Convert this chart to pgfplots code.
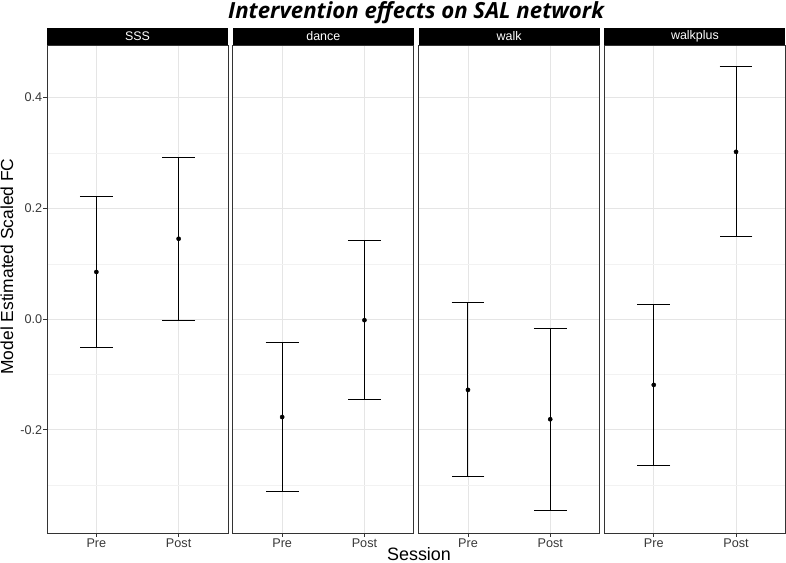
\documentclass[border=0pt]{standalone}
\usepackage{pgfplots}
\pgfplotsset{compat=1.18}
\usepackage{fontspec}
\setmainfont{Liberation Sans}
\newfontfamily\titlefont{Open Sans}
\definecolor{grid92}{gray}{0.90}
\definecolor{grid96}{gray}{0.95}
\definecolor{grey20}{gray}{0.2}
\definecolor{grey30}{gray}{0.22}
\newcommand\strip[1]{%
  \fill[black] (rel axis cs:0,1) rectangle ([yshift=17.3bp]rel axis cs:1,1);
  \node[text=white, font=\fontsize{12.5}{14}\selectfont] at ([yshift=8.65bp]rel axis cs:0.5,1) {#1};}
\pgfplotsset{
  panel/.style={
    scale only axis, width=181bp, height=488.3bp, anchor=south west,
    xmin=0.4, xmax=2.6, ymin=-0.387, ymax=0.495,
    xtick={1,2}, xticklabels={Pre,Post},
    ytick={-0.2,0,0.2,0.4}, yticklabels={-0.2,0.0,0.2,0.4},
    minor ytick={-0.3,-0.1,0.1,0.3},
    grid=both,
    major grid style={line width=0.6bp, grid92},
    minor grid style={line width=0.35bp, grid96},
    axis line style={line width=0.8bp, grey20},
    tick pos=left, tick align=outside,
    major tick length=3.6bp, minor tick length=0pt,
    tick style={line width=0.8bp, grey20},
    ticklabel style={font=\fontsize{12.7}{14}\selectfont, text=grey30},
    xticklabel style={inner sep=1.5bp},
    yticklabel style={inner sep=1bp},
    clip=false,
  },
  inner/.style={yticklabels={}, ytick style={draw=none}},
  ebar/.style={black, only marks, mark=*, mark size=2.1bp,
    error bars/.cd, y dir=both, y explicit,
    error bar style={line width=1bp, black},
    error mark options={rotate=90, line width=1bp, mark size=16.45bp, black}},
}
\begin{document}
\begin{tikzpicture}[x=1bp,y=1bp]
\begin{axis}[panel, at={(47bp,29.7bp)}]
  \addplot[ebar] coordinates {
    (1,0.085) += (0,0.136) -= (0,0.136)
    (2,0.145) += (0,0.147) -= (0,0.147)};
  \strip{SSS}
\end{axis}
\begin{axis}[panel, inner, at={(232.8bp,29.7bp)}]
  \addplot[ebar] coordinates {
    (1,-0.177) += (0,0.134) -= (0,0.134)
    (2,-0.002) += (0,0.143) -= (0,0.143)};
  \strip{dance}
\end{axis}
\begin{axis}[panel, inner, at={(418.6bp,29.7bp)}]
  \addplot[ebar] coordinates {
    (1,-0.128) += (0,0.157) -= (0,0.157)
    (2,-0.181) += (0,0.164) -= (0,0.165)};
  \strip{walk}
\end{axis}
\begin{axis}[panel, inner, at={(604.4bp,29.7bp)}]
  \addplot[ebar] coordinates {
    (1,-0.119) += (0,0.145) -= (0,0.145)
    (2,0.302) += (0,0.154) -= (0,0.153)};
  \strip{walkplus}
\end{axis}
\node[anchor=base, font=\titlefont\bfseries\itshape\fontsize{22.3}{26}\selectfont] at (416bp,544.6bp) {Intervention effects on SAL network};
\node[anchor=base, font=\fontsize{18}{20}\selectfont] at (419bp,2.5bp) {Session};
\node[anchor=base, rotate=90, font=\fontsize{17.5}{20}\selectfont] at (13bp,296.5bp) {Model Estimated Scaled FC};
\pgfresetboundingbox
\useasboundingbox (0,0) rectangle (786bp,563bp);
\end{tikzpicture}
\end{document}
